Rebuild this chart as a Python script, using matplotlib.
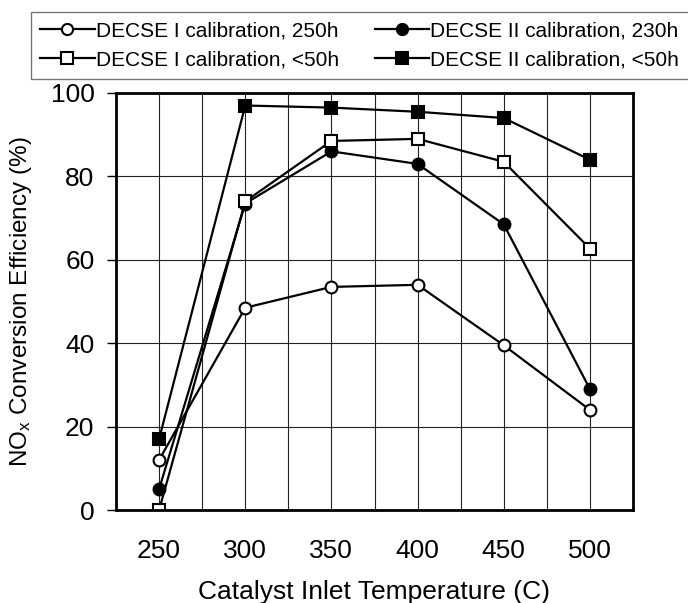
import matplotlib
matplotlib.use("Agg")
import matplotlib.pyplot as plt

plt.rcParams['font.family'] = ['Liberation Sans', 'DejaVu Sans']
plt.rcParams['mathtext.fontset'] = 'custom'
plt.rcParams['mathtext.rm'] = 'Liberation Sans'
plt.rcParams['mathtext.it'] = 'Liberation Sans'

# data
temps = [250, 300, 350, 400, 450, 500]
decse1_250h = [12, 48.5, 53.5, 54, 39.5, 24]
decse2_230h = [5, 73.5, 86, 83, 68.5, 29]
decse1_50h = [0, 74, 88.5, 89, 83.5, 62.7]
decse2_50h = [17, 97, 96.5, 95.5, 94, 84]

W, H = 688, 603
fig = plt.figure(figsize=(W / 100, H / 100), dpi=100)
ax = fig.add_axes([116 / W, 1 - 510 / H, (633 - 116) / W, (510 - 93) / H])

kw = dict(color='black', lw=1.6, ms=8.5, mew=1.5)
l1, = ax.plot(temps, decse1_250h, marker='o', mfc='white', mec='black', label='DECSE I calibration, 250h', **kw)
l2, = ax.plot(temps, decse2_230h, marker='o', mfc='black', mec='black', label='DECSE II calibration, 230h', **kw)
l3, = ax.plot(temps, decse1_50h, marker='s', mfc='white', mec='black', label='DECSE I calibration, <50h', **kw)
l4, = ax.plot(temps, decse2_50h, marker='s', mfc='black', mec='black', label='DECSE II calibration, <50h', **kw)

ax.set_xlim(225, 525)
ax.set_ylim(0, 100)
ax.set_xticks(temps)
ax.set_xticks(range(275, 525, 50), minor=True)
ax.set_yticks(range(0, 101, 20))
ax.grid(True, which='both', color='#222222', lw=0.8)
ax.set_axisbelow(True)
ax.tick_params(axis='x', which='both', length=0, labelsize=19, pad=21)
ax.tick_params(axis='y', length=6.5, width=1, labelsize=19, pad=9)
for s in ax.spines.values():
    s.set_linewidth(2)

ax.set_xlabel('Catalyst Inlet Temperature (C)', fontsize=19, labelpad=12)
ax.set_ylabel(r'NO$_\mathrm{x}$ Conversion Efficiency (%)', fontsize=17.5, labelpad=12)

# matplotlib fills legend column by column
leg = fig.legend(handles=[l1, l3, l2, l4], ncol=2, loc='upper left',
                 bbox_to_anchor=(31 / W, 1 - 12 / H), fontsize=15,
                 frameon=True, fancybox=False, edgecolor='#555555',
                 handlelength=2.6, handletextpad=0.05, columnspacing=1.75,
                 borderpad=0.45, labelspacing=0.5, borderaxespad=0)
leg.get_frame().set_linewidth(1)
for h in leg.legend_handles:
    h.set_markersize(8)

fig.savefig('out.png', dpi=100)
